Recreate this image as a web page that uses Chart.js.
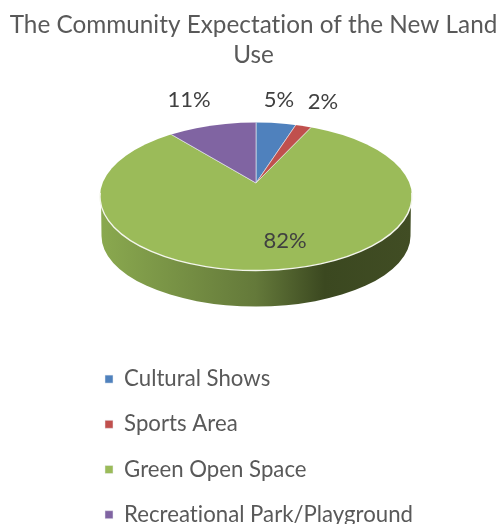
<!DOCTYPE html>
<html>
<head>
<meta charset="utf-8">
<style>
  html, body { margin: 0; padding: 0; background: #fff; overflow: hidden; }
  #wrap { position: relative; width: 502px; height: 524px; }
</style>
<script src="https://cdn.jsdelivr.net/npm/chart.js@4"></script>
</head>
<body>
<div id="wrap"><canvas id="chart" width="502" height="524"></canvas></div>
<script>
const titleLines = ['The Community Expectation of the New Land', 'Use'];
const categories = ['Cultural Shows', 'Sports Area', 'Green Open Space', 'Recreational Park/Playground'];
const shares = [5, 2, 82, 11];
const sliceColors = ['#4F81BD', '#C0504D', '#9BBB59', '#8064A2'];
const labelOffsets = [[23, -83], [67, -81], [29, 58], [-67, -83]];

const FONT = 'Lato, Carlito, sans-serif';

// Tilted-disc geometry: the rim ellipse, the apex where slices meet, and the wall below.
const disc = { cx: 256, cy: 196.5, rx: 156, ry: 74, apexY: 183, tilt: 0.474 };
const wall = { cx: 256, cy: 236, rx: 154.5, ry: 70.5 };

const tiltedPie = {
  id: 'tiltedPie',
  beforeDraw(chart) {
    // A tiny letter spacing switches off the font's "ti" ligature.
    chart.ctx.letterSpacing = '0.01px';

    // Nudge the title right of the canvas centre, above the pie.
    const title = chart.titleBlock;
    if (!title.$nudged) {
      title.left += 2.5;
      title.right += 2.5;
      title.$nudged = true;
    }

    // Place the legend as a left-aligned column below the pie.
    const legend = chart.legend;
    legend.left = 82;
    legend.top = 345;
    legend.right = 502;
    legend.bottom = 620;
  },
  beforeDatasetsDraw(chart) {
    const ctx = chart.ctx;
    const arc = chart.getDatasetMeta(0).data[0];

    // Side wall of the disc
    const grad = ctx.createLinearGradient(disc.cx - disc.rx, 0, disc.cx + disc.rx, 0);
    grad.addColorStop(0, '#8AA94F');
    grad.addColorStop(0.5, '#64793A');
    grad.addColorStop(0.72, '#3B4820');
    grad.addColorStop(1, '#414D24');
    ctx.save();
    ctx.beginPath();
    ctx.ellipse(wall.cx, wall.cy, wall.rx, wall.ry, 0, 0, Math.PI);
    ctx.lineTo(disc.cx - disc.rx + 1, disc.cy);
    ctx.lineTo(disc.cx + disc.rx - 1, disc.cy);
    ctx.closePath();
    ctx.fillStyle = grad;
    ctx.fill();
    ctx.restore();

    // Slices are clipped to the rim and flattened around the apex
    const scale = 210 / arc.outerRadius;
    ctx.save();
    ctx.beginPath();
    ctx.ellipse(disc.cx, disc.cy, disc.rx, disc.ry, 0, 0, Math.PI * 2);
    ctx.clip();
    ctx.translate(disc.cx, disc.apexY);
    ctx.scale(scale, scale * disc.tilt);
    ctx.translate(-arc.x, -arc.y);
  },
  afterDatasetsDraw(chart) {
    const ctx = chart.ctx;
    ctx.restore();

    // Pale rim highlight along the front edge
    ctx.save();
    ctx.beginPath();
    ctx.ellipse(disc.cx, disc.cy, disc.rx, disc.ry, 0, -0.05, Math.PI + 0.05);
    ctx.strokeStyle = '#F4F6EC';
    ctx.lineWidth = 1.4;
    ctx.stroke();
    ctx.restore();

    // Percentage labels
    ctx.save();
    ctx.font = '22px ' + FONT;
    ctx.fillStyle = '#404040';
    ctx.textAlign = 'center';
    ctx.textBaseline = 'middle';
    shares.forEach((v, i) => {
      ctx.fillText(v + '%', disc.cx + labelOffsets[i][0], disc.apexY + labelOffsets[i][1]);
    });
    ctx.restore();
  }
};

new Chart(document.getElementById('chart'), {
  type: 'pie',
  data: {
    labels: categories,
    datasets: [{
      data: shares,
      backgroundColor: sliceColors,
      borderColor: '#E8ECF0',
      borderWidth: 0.5
    }]
  },
  options: {
    responsive: false,
    animation: false,
    layout: { padding: 0 },
    plugins: {
      tooltip: { enabled: false },
      title: {
        display: true,
        text: titleLines,
        color: '#595959',
        font: { family: FONT, size: 24.3, weight: 'normal', lineHeight: 1.235 },
        padding: { top: 10, bottom: 0 }
      },
      legend: {
        position: 'left',
        align: 'start',
        labels: {
          color: '#595959',
          font: { family: FONT, size: 22.2 },
          boxWidth: 8,
          boxHeight: 8,
          padding: 23
        }
      }
    }
  },
  plugins: [tiltedPie]
});
</script>
</body>
</html>
